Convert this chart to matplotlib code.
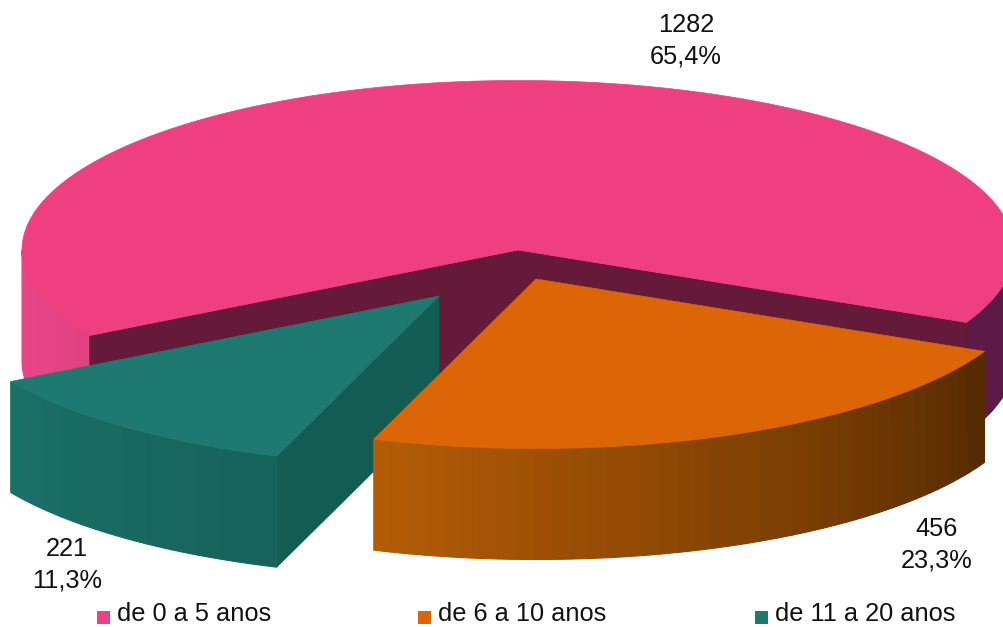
import numpy as np
import matplotlib
matplotlib.use("Agg")
import matplotlib.pyplot as plt
from matplotlib.colors import to_rgb
from matplotlib.patches import Polygon, Rectangle

plt.rcParams['font.family'] = ['Liberation Sans', 'DejaVu Sans']

# chart data
categories = ["de 0 a 5 anos", "de 6 a 10 anos", "de 11 a 20 anos"]
counts = [1282, 456, 221]

# styles
top_colors = ["#ee3f80", "#dc6605", "#1e7a70"]
legend_colors = ["#ee3f80", "#dc6605", "#1e7a70"]
side_colors = [("#e94788", "#e14280"), ("#b35c06", "#562b02"), ("#1a6f66", "#17635b")]
wall_color = "#641a38"
right_side_color = "#5e1a46"
teal_wall_color = "#135c54"

# pie geometry in pixels
cx, cy = 518, 250
rx, ry = 496, 169.5
depth = 111
start_angle = 210.3
offsets = [(0, 0), (18, 29), (-79, 46)]
label_pos = [(686, 41), (937, 545), (67, 565)]
legend_x = [97, 418, 755]


def ellipse_points(theta1, theta2, dx=0, dy=0, n=200):
    """
    Points along the pie rim, angles in degrees.
    """
    t = np.radians(np.linspace(theta1, theta2, n))
    return np.column_stack([cx + dx + rx * np.cos(t), cy + dy - ry * np.sin(t)])


def draw_side(ax, theta1, theta2, c1, c2, dx=0, dy=0, steps=24):
    """
    Outer rim of a slice as bands going from c1 to c2 between the two angles.
    """
    edges = np.linspace(theta1, theta2, steps + 1)
    c1, c2 = np.array(to_rgb(c1)), np.array(to_rgb(c2))
    for i in range(steps):
        arc = ellipse_points(edges[i], edges[i + 1], dx, dy, n=8)
        poly = np.vstack([arc, arc[::-1] + [0, depth]])
        color = c1 + (c2 - c1) * i / max(steps - 1, 1)
        ax.add_patch(Polygon(poly, closed=True, fc=color, ec=color, lw=0.8))


def draw_top(ax, theta1, theta2, color, dx=0, dy=0):
    arc = ellipse_points(theta1, theta2, dx, dy)
    poly = np.vstack([[cx + dx, cy + dy], arc])
    ax.add_patch(Polygon(poly, closed=True, fc=color, ec=color, lw=0.5))


def draw_wall(ax, theta, color, dx=0, dy=0):
    edge = ellipse_points(theta, theta, dx, dy, n=1)[0]
    apex = np.array([cx + dx, cy + dy])
    poly = [apex, edge, edge + [0, depth], apex + [0, depth]]
    ax.add_patch(Polygon(poly, closed=True, fc=color, ec=color, lw=0.5))


fig = plt.figure(figsize=(10.04, 6.27), dpi=100)
ax = fig.add_axes([0, 0, 1, 1])
ax.set_xlim(0, 1004)
ax.set_ylim(627, 0)
ax.axis("off")

# slice angles come from the counts, clockwise from the left edge of the pink slice
sweeps = 360 * np.array(counts) / sum(counts)
ends = start_angle - np.cumsum(sweeps)
starts = ends + sweeps

# pink slice: rim on both sides, two cut walls, then the top
draw_side(ax, 180, starts[0], side_colors[0][0], side_colors[0][1], steps=10)
draw_side(ax, ends[0], 0, right_side_color, right_side_color, steps=6)
draw_wall(ax, starts[0], wall_color)
draw_wall(ax, ends[0], wall_color)
draw_top(ax, starts[0], ends[0], top_colors[0])

# teal slice, rim colours run left to right
dx, dy = offsets[2]
draw_wall(ax, starts[2], teal_wall_color, dx, dy)
draw_side(ax, ends[2], starts[2], side_colors[2][0], side_colors[2][1], dx, dy, steps=12)
draw_top(ax, starts[2], ends[2], top_colors[2], dx, dy)

# orange slice
dx, dy = offsets[1]
draw_side(ax, ends[1], starts[1], side_colors[1][0], side_colors[1][1], dx, dy, steps=40)
draw_top(ax, starts[1], ends[1], top_colors[1], dx, dy)

# data labels
for value, (x, y) in zip(counts, label_pos):
    pct = f"{100 * value / sum(counts):.1f}".replace(".", ",")
    ax.text(x, y, f"{value}\n{pct}%", ha="center", va="center", fontsize=18.3,
            color="#111111", linespacing=1.37)

# legend
for name, color, x in zip(categories, legend_colors, legend_x):
    ax.add_patch(Rectangle((x, 611), 13, 13, fc=color, ec="none"))
    ax.text(x + 20, 621, name, ha="left", va="baseline", fontsize=18.3, color="#111111")

plt.savefig("out.png", dpi=100)
